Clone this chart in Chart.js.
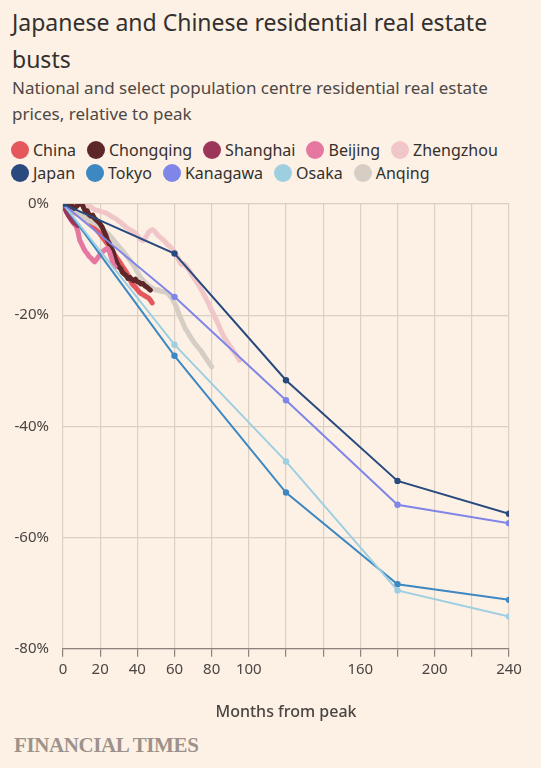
<!DOCTYPE html>
<html>
<head>
<meta charset="utf-8">
<script src="https://cdn.jsdelivr.net/npm/chart.js@4"></script>
<style>
  html, body { margin:0; padding:0; background:#fdf1e6; }
  body { width:541px; height:768px; position:relative; overflow:hidden; font-family:"Noto Sans", sans-serif; }
  #title { position:absolute; left:12px; top:4px; width:520px; font-size:23px; line-height:37px; color:#33302e; }
  #subtitle { position:absolute; left:12px; top:75px; width:500px; font-size:17px; line-height:26px; color:#4d4845; }
  #legend { position:absolute; left:11px; top:138px; width:530px; font-size:16px; color:#33302e; }
  .row { display:flex; height:23px; align-items:center; }
  .item { display:flex; align-items:center; margin-right:11px; }
  .dot { width:18px; height:18px; border-radius:50%; margin-right:4px; }
  #wrap { position:absolute; left:0; top:190px; width:541px; height:538px; }
  #ft { position:absolute; left:14px; top:733px; font-family:"Liberation Serif", serif; font-size:21px; font-weight:bold; color:#9c928b; letter-spacing:-0.4px; }
</style>
</head>
<body>
<div id="title">Japanese and Chinese residential real estate busts</div>
<div id="subtitle">National and select population centre residential real estate prices, relative to peak</div>
<div id="legend"></div>
<div id="wrap"><canvas id="c"></canvas></div>
<div id="ft">FINANCIAL TIMES</div>
<script>
// ---- Data (percent change relative to peak) ----
// Chinese series: monthly values, index = months from peak
const chinaValues = [0,-0.3,-0.6,-0.9,-1.1,-1.3,-1.5,-1.7,-1.9,-2.0,-2.2,-2.4,-2.6,-2.8,-3.0,-3.3,-3.7,-4.2,-4.6,-5.0,-5.4,-5.9,-6.3,-6.8,-7.2,-7.7,-8.2,-8.7,-9.2,-9.7,-10.2,-10.7,-11.2,-11.7,-12.2,-12.8,-13.5,-14.3,-14.7,-15.0,-15.4,-15.8,-16.1,-16.3,-16.5,-16.7,-16.9,-17.3,-17.8];
const chongqingValues = [0,-0.2,-0.5,-0.3,-0.6,-0.4,-0.8,-0.5,-0.2,0.1,0.2,-0.6,-1.3,-1.2,-1.9,-2.2,-2.0,-2.6,-2.9,-3.2,-3.6,-4.1,-4.9,-5.6,-6.6,-7.1,-7.9,-8.6,-9.8,-10.6,-11.3,-11.6,-12.3,-12.6,-12.9,-13.4,-13.2,-13.6,-13.8,-13.5,-14.0,-14.1,-14.4,-14.3,-14.7,-14.9,-15.2,-15.5];
const shanghaiValues = [0,-0.8,-1.5,-2.1,-2.6,-3.0,-3.4,-3.6,-3.9];
const beijingValues = [0,-0.7,-1.4,-2.0,-2.6,-3.2,-3.6,-4.0,-4.9,-6.5,-7.2,-7.9,-8.5,-8.9,-9.4,-9.7,-10.1,-10.4,-10.0,-9.5,-9.1,-8.7,-8.4,-8.1,-8.0,-8.6,-9.6,-10.8,-11.3];
const zhengzhouValues = [0,0.1,0,0.1,0,-0.1,0,0.1,0,0,-0.1,0,0,-0.1,-0.3,-0.5,-0.8,-1.0,-1.1,-1.2,-1.3,-1.4,-1.5,-1.6,-1.8,-2.0,-2.2,-2.4,-2.6,-2.8,-3.1,-3.3,-3.6,-3.9,-4.2,-4.4,-4.6,-4.8,-5.0,-5.3,-5.6,-6.1,-6.4,-6.6,-6.3,-5.7,-5.1,-4.8,-4.6,-4.8,-5.2,-5.6,-5.9,-6.2,-6.5,-6.8,-7.2,-7.5,-7.8,-8.2,-8.7,-9.2,-9.8,-10.6,-10.9,-10.7,-11.1,-11.6,-12.0,-12.6,-13.1,-13.6,-14.1,-14.6,-15.2,-15.8,-16.4,-17.0,-17.7,-18.4,-19.1,-19.8,-20.5,-21.2,-22.0,-22.8,-23.5,-24.1,-24.6,-25.1,-25.6,-26.1,-26.6,-27.1,-27.6,-28.1];
const anqingValues = [0,-0.3,-0.6,-0.8,-1.0,-1.2,-1.4,-1.6,-1.8,-2.0,-2.2,-2.4,-2.6,-2.8,-3.0,-3.1,-3.3,-3.5,-3.6,-3.9,-4.1,-4.4,-4.7,-5.0,-5.3,-5.6,-6.0,-6.4,-6.8,-7.2,-7.6,-8.0,-8.4,-8.8,-9.3,-9.7,-10.1,-10.6,-11.0,-11.6,-12.2,-12.8,-13.3,-13.7,-14.0,-14.4,-14.7,-14.9,-15.1,-15.3,-15.5,-15.4,-15.6,-15.7,-15.8,-15.8,-16.0,-16.3,-16.7,-17.2,-17.8,-18.5,-19.4,-20.3,-21.0,-21.8,-22.5,-23.0,-23.6,-24.1,-24.6,-25.1,-25.5,-25.9,-26.3,-26.8,-27.3,-27.8,-28.3,-28.8,-29.3];
// Japanese series: sampled every 60 months
const japanMonths = [0,60,120,180,240];
const japanValues = [0,-8.9,-31.7,-49.8,-55.7];
const tokyoValues = [0,-27.3,-51.9,-68.4,-71.2];
const kanagawaValues = [0,-16.7,-35.3,-54.1,-57.4];
const osakaValues = [0,-25.3,-46.3,-69.5,-74.2];

const xTickLabels = [0,20,40,60,80,100,160,200,240];
const yTicks = [0,-20,-40,-60,-80];

const legendNames = ["China","Chongqing","Shanghai","Beijing","Zhengzhou","Japan","Tokyo","Kanagawa","Osaka","Anqing"];
const colors = {
  China:"#e4575c", Chongqing:"#5d2629", Shanghai:"#9c3659", Beijing:"#e677a0", Zhengzhou:"#f0c6c9",
  Japan:"#284a7e", Tokyo:"#3d88c3", Kanagawa:"#7f86e7", Osaka:"#9dcfe1", Anqing:"#d6cdc4"
};

// ---- Legend ----
const leg = document.getElementById('legend');
[legendNames.slice(0,5), legendNames.slice(5)].forEach(names => {
  const row = document.createElement('div'); row.className='row';
  names.forEach(n => {
    const it = document.createElement('div'); it.className='item';
    const d = document.createElement('span'); d.className='dot'; d.style.background = colors[n];
    const t = document.createElement('span'); t.textContent = n;
    it.appendChild(d); it.appendChild(t); row.appendChild(it);
  });
  leg.appendChild(row);
});

const monthly = vals => vals.map((v,i)=>({x:i, y:v}));
const sampled = vals => vals.map((v,i)=>({x:japanMonths[i], y:v}));

function cn(name, vals, order){
  return { label:name, data:monthly(vals), borderColor:colors[name], backgroundColor:colors[name],
    borderWidth:5, pointRadius:0, tension:0, borderCapStyle:'round', borderJoinStyle:'round', order:order };
}
function jp(name, vals, order){
  return { label:name, data:sampled(vals), borderColor:colors[name], backgroundColor:colors[name],
    borderWidth:2, pointRadius:3.2, pointBorderWidth:0, pointHoverRadius:3.2, tension:0, order:order };
}

const datasets = [
  jp("Japan", japanValues, 1),
  jp("Kanagawa", kanagawaValues, 2),
  jp("Osaka", osakaValues, 3),
  jp("Tokyo", tokyoValues, 4),
  cn("Shanghai", shanghaiValues, 5),
  cn("Beijing", beijingValues, 6),
  cn("Chongqing", chongqingValues, 7),
  cn("Anqing", anqingValues, 8),
  cn("China", chinaValues, 9),
  cn("Zhengzhou", zhengzhouValues, 10)
];

const textCol = "#4a4542";
new Chart(document.getElementById('c'), {
  type:'line',
  data:{ datasets },
  options:{
    responsive:true, maintainAspectRatio:false, animation:false,
    layout:{ padding:{ left:10, right:32, top:14, bottom:2 } },
    plugins:{ legend:{display:false}, tooltip:{enabled:false} },
    scales:{
      x:{
        type:'linear', min:0, max:240,
        grid:{ color:"#dccfc3", lineWidth:1.2, tickLength:8, tickColor:"#8a827b" },
        border:{ color:"#8a827b", width:1.2 },
        ticks:{ stepSize:20, autoSkip:false, maxRotation:0, color:textCol, font:{family:"Noto Sans", size:15}, padding:4,
          callback:(v)=> xTickLabels.includes(v) ? String(v) : '' },
        title:{ display:true, text:"Months from peak", color:textCol, font:{family:"Noto Sans", size:16, weight:'500'}, padding:{top:20} }
      },
      y:{
        min:-80, max:0,
        afterFit:(s)=>{ s.width = 53; s.paddingTop = 0; s.paddingBottom = 0; },
        grid:{ color:"#dccfc3", lineWidth:1.2, drawTicks:false },
        border:{ display:false },
        ticks:{ stepSize:20, color:textCol, font:{family:"Noto Sans", size:15}, padding:14,
          callback:(v)=> yTicks.includes(v) ? v + '%' : '' }
      }
    }
  }
});
</script>
</body>
</html>
